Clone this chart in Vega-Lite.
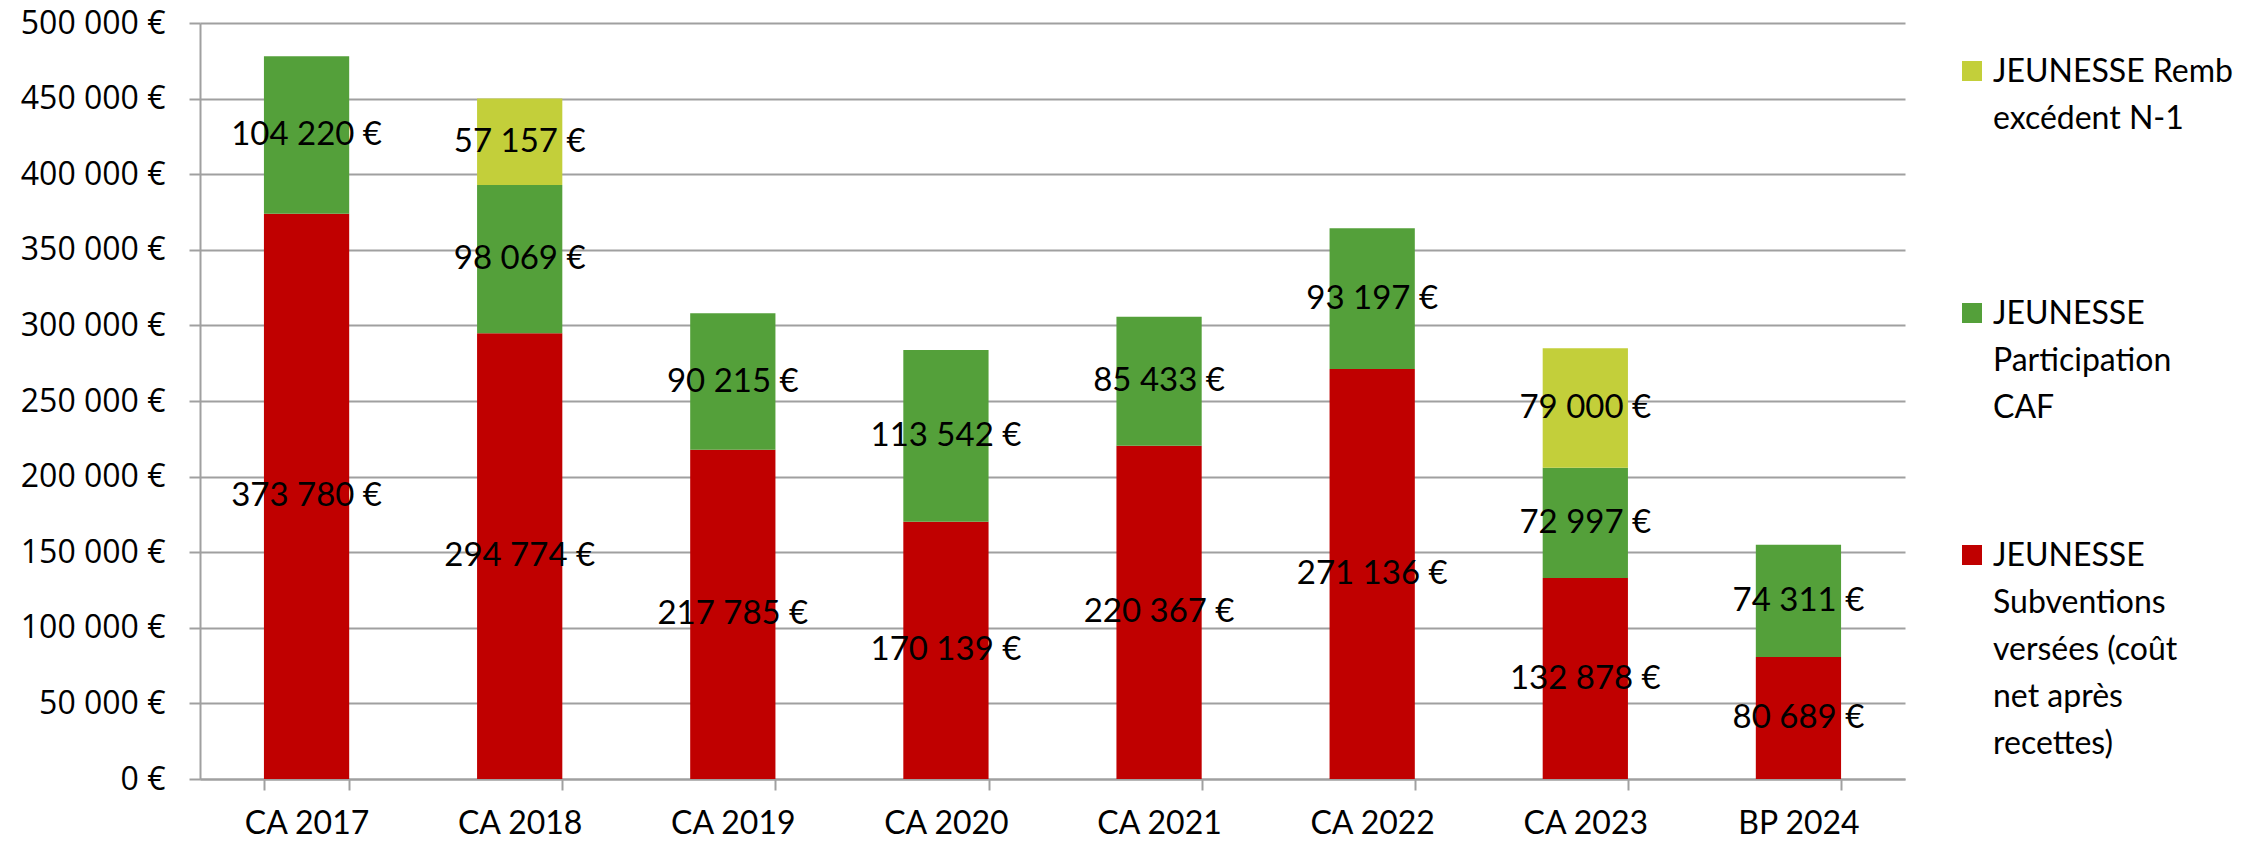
{
  "$schema": "https://vega.github.io/schema/vega-lite/v6.json",
  "width": 1705,
  "height": 756,
  "autosize": {"type": "none"},
  "padding": {"left": 200, "top": 23, "right": 357, "bottom": 63},
  "background": "white",
  "config": {
    "view": {"stroke": null},
    "locale": {"number": {"decimal": ",", "thousands": "\u00a0", "grouping": [3], "currency": ["", "\u00a0€"]}},
    "style": {"guide-label": {"lineHeight": 47}}
  },
  "data": {
    "values": [
      {"annee": "CA 2017", "serie": "JEUNESSE Subventions versées (coût net après recettes)", "k": 1, "valeur": 373780},
      {"annee": "CA 2017", "serie": "JEUNESSE Participation CAF", "k": 2, "valeur": 104220},
      {"annee": "CA 2018", "serie": "JEUNESSE Subventions versées (coût net après recettes)", "k": 1, "valeur": 294774},
      {"annee": "CA 2018", "serie": "JEUNESSE Participation CAF", "k": 2, "valeur": 98069},
      {"annee": "CA 2018", "serie": "JEUNESSE Remb excédent N-1", "k": 3, "valeur": 57157},
      {"annee": "CA 2019", "serie": "JEUNESSE Subventions versées (coût net après recettes)", "k": 1, "valeur": 217785},
      {"annee": "CA 2019", "serie": "JEUNESSE Participation CAF", "k": 2, "valeur": 90215},
      {"annee": "CA 2020", "serie": "JEUNESSE Subventions versées (coût net après recettes)", "k": 1, "valeur": 170139},
      {"annee": "CA 2020", "serie": "JEUNESSE Participation CAF", "k": 2, "valeur": 113542},
      {"annee": "CA 2021", "serie": "JEUNESSE Subventions versées (coût net après recettes)", "k": 1, "valeur": 220367},
      {"annee": "CA 2021", "serie": "JEUNESSE Participation CAF", "k": 2, "valeur": 85433},
      {"annee": "CA 2022", "serie": "JEUNESSE Subventions versées (coût net après recettes)", "k": 1, "valeur": 271136},
      {"annee": "CA 2022", "serie": "JEUNESSE Participation CAF", "k": 2, "valeur": 93197},
      {"annee": "CA 2023", "serie": "JEUNESSE Subventions versées (coût net après recettes)", "k": 1, "valeur": 132878},
      {"annee": "CA 2023", "serie": "JEUNESSE Participation CAF", "k": 2, "valeur": 72997},
      {"annee": "CA 2023", "serie": "JEUNESSE Remb excédent N-1", "k": 3, "valeur": 79000},
      {"annee": "BP 2024", "serie": "JEUNESSE Subventions versées (coût net après recettes)", "k": 1, "valeur": 80689},
      {"annee": "BP 2024", "serie": "JEUNESSE Participation CAF", "k": 2, "valeur": 74311}
    ]
  },
  "encoding": {
    "x": {
      "field": "annee", "type": "nominal", "sort": null,
      "scale": {"paddingInner": 0.6, "paddingOuter": 0.3},
      "axis": {
        "title": null, "labelAngle": 0, "tickBand": "extent",
        "domainColor": "#A0A0A0", "domainWidth": 2,
        "tickColor": "#A0A0A0", "tickWidth": 2, "tickSize": 11,
        "labelFont": "Lato", "labelFontSize": 32, "labelColor": "#000000",
        "labelPadding": 18, "grid": false
      }
    },
    "y": {
      "field": "valeur", "type": "quantitative", "stack": "zero",
      "scale": {"domain": [0, 500000], "nice": false},
      "axis": {
        "title": null, "values": [0, 50000, 100000, 150000, 200000, 250000, 300000, 350000, 400000, 450000, 500000],
        "format": "$,.0f",
        "domainColor": "#A0A0A0", "domainWidth": 2,
        "tickColor": "#A0A0A0", "tickWidth": 2, "tickSize": 11,
        "gridColor": "#A0A0A0", "gridWidth": 2,
        "labelFont": "Open Sans", "labelFontSize": 32, "labelColor": "#000000",
        "labelPadding": 24
      }
    },
    "order": {"field": "k", "type": "quantitative", "sort": "ascending"}
  },
  "layer": [
    {
      "mark": {"type": "bar"},
      "encoding": {
        "color": {
          "field": "serie", "type": "nominal",
          "scale": {
            "domain": ["JEUNESSE Remb excédent N-1", "JEUNESSE Participation CAF", "JEUNESSE Subventions versées (coût net après recettes)"],
            "range": ["#C3CF3A", "#54A03A", "#C00000"]
          },
          "legend": {
            "title": null, "orient": "none", "legendX": 1756, "legendY": 18,
            "padding": 0,
            "symbolType": "M-1,0.4H1V2.4H-1Z", "symbolSize": 400, "symbolStrokeWidth": 0,
            "labelFont": "Lato", "labelFontSize": 32, "labelColor": "#000000",
            "labelBaseline": "top", "labelOffset": 5, "labelLimit": 400,
            "rowPadding": 7,
            "labelExpr": "datum.label == 'JEUNESSE Remb excédent N-1' ? ['JEUNESSE Remb', 'excédent N-1', '', '', ''] : datum.label == 'JEUNESSE Participation CAF' ? ['JEUNESSE', 'Participation', 'CAF', '', ''] : ['JEUNESSE', 'Subventions', 'versées (coût', 'net après', 'recettes)']"
          }
        }
      }
    },
    {
      "mark": {"type": "text", "font": "Lato", "fontSize": 33, "color": "#000000"},
      "encoding": {
        "y": {"field": "valeur", "type": "quantitative", "stack": "zero", "bandPosition": 0.5},
        "detail": {"field": "serie", "type": "nominal"},
        "text": {"field": "valeur", "type": "quantitative", "format": "$,.0f"}
      }
    }
  ]
}
